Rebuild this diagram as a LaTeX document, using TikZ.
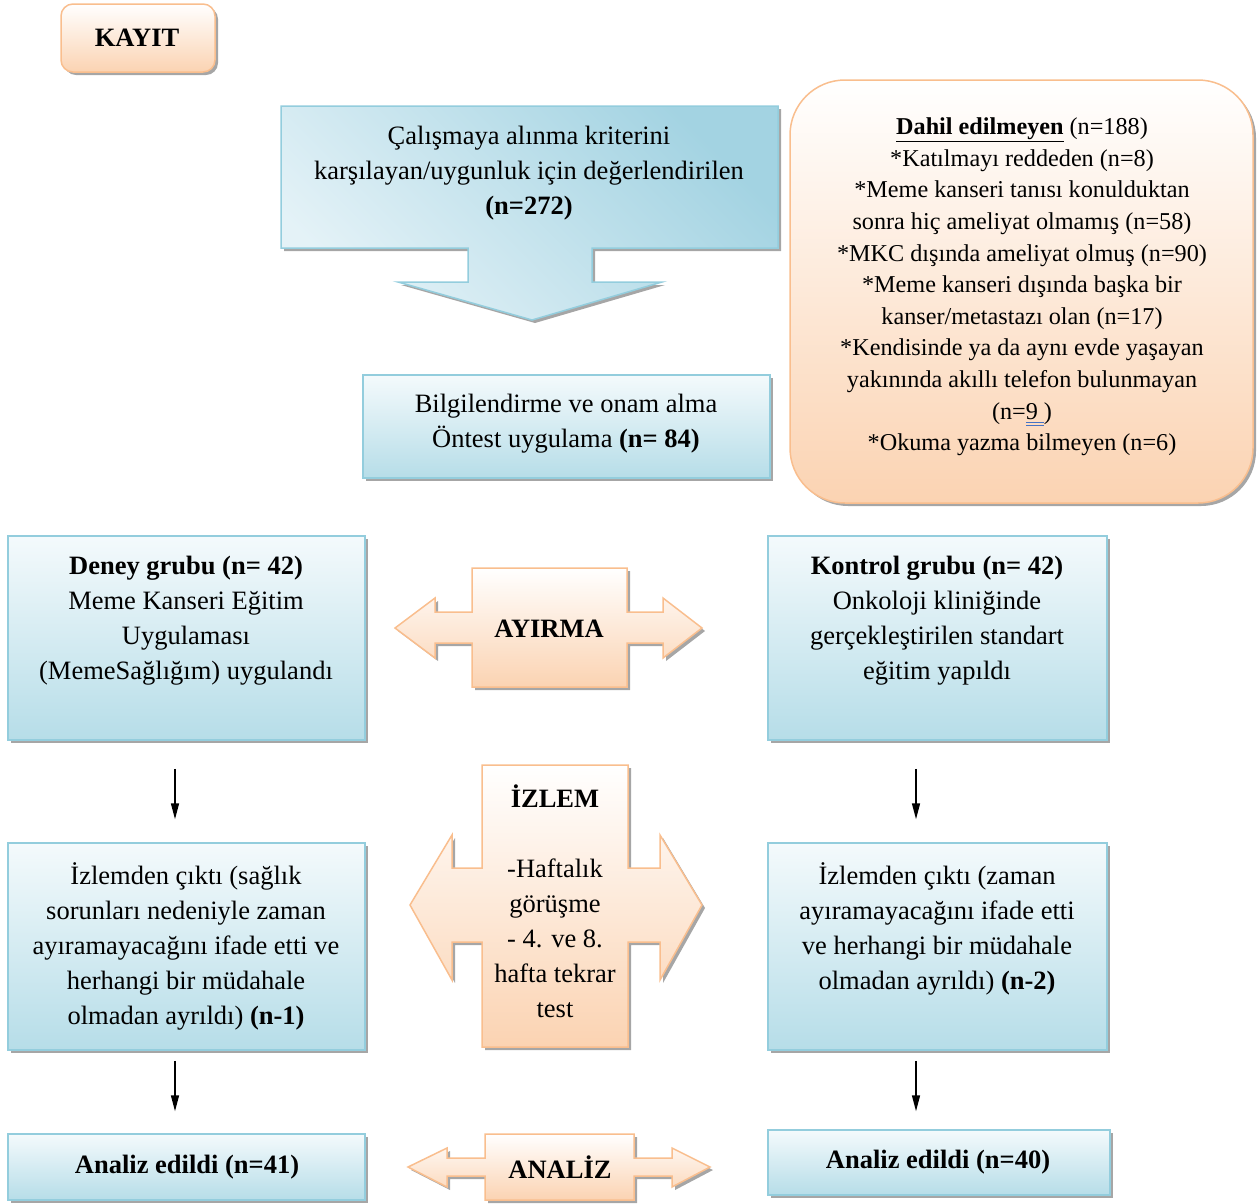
\documentclass[tikz,border=0pt]{standalone}
\usepackage{fontspec}
\setmainfont{Liberation Serif}
\usetikzlibrary{shadows,arrows.meta}
\definecolor{bluetop}{HTML}{F4FAFC}
\definecolor{bluebot}{HTML}{B6DDE8}
\definecolor{bluedark}{HTML}{A3D3E2}
\definecolor{bluelight}{HTML}{E4F2F7}
\definecolor{blueline}{HTML}{93CDDD}
\definecolor{ortop}{HTML}{FFFFFF}
\definecolor{orbot}{HTML}{FBD3B2}
\definecolor{orline}{HTML}{F9BE8E}
\definecolor{ulblue}{HTML}{4472C4}
\newcommand\wordul[1]{\setbox0=\hbox{#1}\rlap{\textcolor{ulblue}{\rule[-4pt]{\wd0}{0.8pt}}}\rlap{\textcolor{ulblue}{\rule[-6.5pt]{\wd0}{0.8pt}}}\box0}
\tikzset{
  shad/.style={drop shadow={shadow xshift=3pt,shadow yshift=-3pt,fill=black,opacity=0.35}},
  bluebox/.style={rectangle,draw=blueline,line width=1.5pt,top color=bluetop,bottom color=bluebot,shad,inner sep=0pt},
  orbox/.style={rectangle,draw=orline,line width=1.5pt,top color=ortop,bottom color=orbot,shad,inner sep=0pt},
  orshape/.style={draw=orline,line width=1.5pt,top color=ortop,bottom color=orbot,shad,line join=miter},
  txt/.style={align=center,inner sep=0pt,font=\fontsize{26.5}{35}\selectfont},
  smalltxt/.style={align=center,inner sep=0pt,font=\fontsize{24.2}{31.6}\selectfont},
  conn/.style={line width=1.5pt,-{Triangle[length=16pt,width=8pt]}}
}
\begin{document}
\begin{tikzpicture}[x=1pt,y=-1pt]
\useasboundingbox (0,0) rectangle (1257,1203);

% KAYIT
\node[orbox,rounded corners=12pt,minimum width=154pt,minimum height=68pt] (kayit) at (138,38) {};
\node[txt,font=\fontsize{26.5}{35}\selectfont\bfseries] (kayittxt) at (137,38) {KAYIT};

% top down arrow box
\path[draw=blueline,line width=1.5pt,top color=bluedark,bottom color=bluelight,shading angle=-45,shad]
  (281,106) -- (778,106) -- (778,248) -- (592,248) -- (592,282) -- (662,282) -- (532,320)
  -- (398,282) -- (468,282) -- (468,248) -- (281,248) -- cycle;
\node[txt] (kriter) at (529,173) {Çalışmaya alınma kriterini\\karşılayan/uygunluk için değerlendirilen\\\textbf{(n=272)}};

% Dahil edilmeyen
\node[orbox,rounded corners=55pt,minimum width=463pt,minimum height=423pt] (dahil) at (1021.5,291.5) {};
\node[smalltxt] (dahiltxt) at (1022,287) {\underline{\textbf{Dahil edilmeyen}} (n=188)\\
*Katılmayı reddeden (n=8)\\
*Meme kanseri tanısı konulduktan\\
sonra hiç ameliyat olmamış (n=58)\\
*MKC dışında ameliyat olmuş (n=90)\\
*Meme kanseri dışında başka bir\\
kanser/metastazı olan (n=17)\\
*Kendisinde ya da aynı evde yaşayan\\
yakınında akıllı telefon bulunmayan\\
(n=\wordul{9 })\\
*Okuma yazma bilmeyen (n=6)};

% Bilgilendirme
\node[bluebox,minimum width=407pt,minimum height=103pt] (bilgi) at (566.5,426.5) {};
\node[txt] (bilgitxt) at (566,424) {Bilgilendirme ve onam alma\\Öntest uygulama \textbf{(n= 84)}};

% Deney / Kontrol
\node[bluebox,minimum width=357pt,minimum height=204pt] (deney) at (186.5,638) {};
\node[txt] (deneytxt) at (186,621) {\textbf{Deney grubu (n= 42)}\\Meme Kanseri Eğitim\\Uygulaması\\(MemeSağlığım) uygulandı};
\node[bluebox,minimum width=339pt,minimum height=204pt] (kontrol) at (937.5,638) {};
\node[txt] (kontroltxt) at (937,621) {\textbf{Kontrol grubu (n= 42)}\\Onkoloji kliniğinde\\gerçekleştirilen standart\\eğitim yapıldı};

% AYIRMA arrow
\path[orshape] (472,568) -- (627,568) -- (627,612) -- (663,612) -- (663,598) -- (702,628)
  -- (663,658) -- (663,643) -- (627,643) -- (627,687) -- (472,687) -- (472,643)
  -- (435,643) -- (435,658) -- (395,628) -- (435,598) -- (435,612) -- (472,612) -- cycle;
\node[txt,font=\fontsize{26.5}{35}\selectfont\bfseries] (ayirma) at (549,629) {AYIRMA};

% Izlem boxes
\node[bluebox,minimum width=357pt,minimum height=207pt] (izlL) at (186.5,946.5) {};
\node[txt] (izlLtxt) at (186,946) {İzlemden çıktı (sağlık\\sorunları nedeniyle zaman\\ayıramayacağını ifade etti ve\\herhangi bir müdahale\\olmadan ayrıldı) \textbf{(n-1)}};
\node[bluebox,minimum width=339pt,minimum height=207pt] (izlR) at (937.5,946.5) {};
\node[txt] (izlRtxt) at (937,929) {İzlemden çıktı (zaman\\ayıramayacağını ifade etti\\ve herhangi bir müdahale\\olmadan ayrıldı) \textbf{(n-2)}};

% IZLEM arrow
\path[orshape] (482,765) -- (628,765) -- (628,868) -- (660,868) -- (660,835) -- (702,905)
  -- (660,980) -- (660,942) -- (628,942) -- (628,1047) -- (482,1047) -- (482,942)
  -- (452,942) -- (452,980) -- (410,905) -- (452,835) -- (452,868) -- (482,868) -- cycle;
\node[txt] (izlem) at (555,901) {\textbf{İZLEM}\\[35pt]-Haftalık\\görüşme\\- 4. ve 8.\\hafta tekrar\\test};

% Analiz boxes
\node[bluebox,minimum width=357pt,minimum height=66pt] (anaL) at (186.5,1167) {};
\node[txt,font=\fontsize{26.5}{35}\selectfont\bfseries] (anaLtxt) at (187,1167) {Analiz edildi (n=41)};
\node[bluebox,minimum width=342pt,minimum height=65pt] (anaR) at (939,1162.5) {};
\node[txt,font=\fontsize{26.5}{35}\selectfont\bfseries] (anaRtxt) at (938,1162) {Analiz edildi (n=40)};

% ANALIZ arrow
\path[orshape] (485,1134) -- (634,1134) -- (634,1158) -- (672,1158) -- (672,1148) -- (710,1167)
  -- (672,1187) -- (672,1176) -- (634,1176) -- (634,1200) -- (485,1200) -- (485,1176)
  -- (447,1176) -- (447,1187) -- (408,1167) -- (447,1148) -- (447,1158) -- (485,1158) -- cycle;
\node[txt,font=\fontsize{26.5}{35}\selectfont\bfseries] (analiz) at (560,1167) {ANALİZ};

% connectors
\draw[conn] ([xshift=-11.5pt,yshift=-28pt]deney.south) -- ([xshift=-11.5pt,yshift=23pt]izlL.north);
\draw[conn] ([xshift=-21.5pt,yshift=-28pt]kontrol.south) -- ([xshift=-21.5pt,yshift=23pt]izlR.north);
\draw[conn] ([xshift=-11.5pt,yshift=-10pt]izlL.south) -- ([xshift=-11.5pt,yshift=22pt]anaL.north);
\draw[conn] ([xshift=-21.5pt,yshift=-10pt]izlR.south) -- ([xshift=-23pt,yshift=18pt]anaR.north);
\end{tikzpicture}
\end{document}
